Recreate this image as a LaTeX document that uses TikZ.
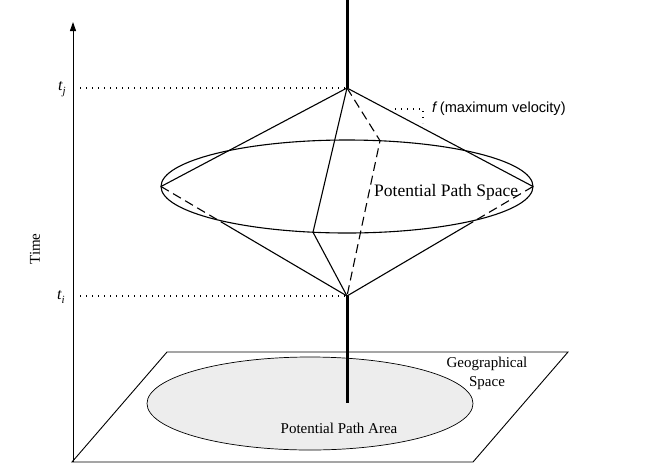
\documentclass[tikz,border=0pt]{standalone}
\usepackage{fontspec}
\setmainfont{Liberation Serif}
\setsansfont{Liberation Sans}
\usetikzlibrary{calc,arrows.meta}
\begin{document}
\begin{tikzpicture}[x=1pt,y=-1pt,
  thin line/.style={line width=1.1pt},
  thick pole/.style={line width=3pt},
  dotline/.style={line width=1.1pt,dash pattern=on 1.1pt off 4.9pt},
  dashline/.style={line width=1.1pt,dash pattern=on 9pt off 5pt},
  lbl/.style={inner sep=0pt,font=\fontsize{15}{19}\selectfont},
  tlbl/.style={inner sep=0pt,font=\fontsize{16}{16}\selectfont\itshape}]
\useasboundingbox (0,0) rectangle (662,475);
% coordinates
\coordinate (top) at (347,0);
\coordinate (A) at (347,88);   % apex upper
\coordinate (B) at (347,296);  % apex lower
\coordinate (L) at (161,186.5);
\coordinate (R) at (533,186.5);
\coordinate (F) at (313,232.2);
\coordinate (K) at (380,140.7);
\coordinate (Lx) at ($(L)!0.321!(B)$);
\coordinate (Rx) at ($(R)!0.321!(B)$);
\coordinate (poleend) at (347,403);
\coordinate (ax0) at (73,462);
\coordinate (ax1) at (73,22);
\coordinate (tj0) at (80,88);
\coordinate (ti0) at (80,296);
\coordinate (f0) at (395,109);
\coordinate (f1) at (423,109);
\coordinate (f2) at (423,123);
\coordinate (p1) at (72,462);
\coordinate (p2) at (167,352);
\coordinate (p3) at (568,352);
\coordinate (p4) at (473,462);
% geographical plane
\draw[line width=0.9pt] (p1) -- (p2) -- (p3) -- (p4) -- cycle;
\draw[line width=0.7pt, fill=black!7] (310,403.5) ellipse [x radius=163pt, y radius=46.5pt];
% time axis
\draw[line width=1pt,-{Triangle[length=9pt,width=6pt]}] (ax0) -- (ax1);
% dotted time marks
\draw[dotline] (tj0) -- (A);
\draw[dotline] (ti0) -- (B);
% pole
\draw[thick pole] (top) -- (A);
\draw[thick pole] (B) -- (poleend);
% path space ellipse
\draw[thin line] (347,186.5) ellipse [x radius=186pt, y radius=46.5pt];
% prism edges
\draw[thin line] (A) -- (L);
\draw[thin line] (A) -- (R);
\draw[dashline] (L) -- (Lx);
\draw[thin line] (Lx) -- (B);
\draw[dashline] (R) -- (Rx);
\draw[thin line] (Rx) -- (B);
\draw[thin line] (A) -- (F) -- (B);
\draw[dashline] (A) -- (K) -- (B);
% f label
\draw[dotline] (f0) -- (f1) -- (f2);
\node[inner sep=0pt,anchor=west,font=\fontsize{14.6}{15}\selectfont\sffamily] (flbl) at (432,109) {\textit{f}\,(maximum velocity)};
% labels
\node[tlbl] (tj) at (62,89) {t\raisebox{-3.5pt}{\fontsize{11}{10}\selectfont j}};
\node[tlbl] (ti) at (61,297) {t\raisebox{-3.5pt}{\fontsize{11}{10}\selectfont i}};
\node[lbl,rotate=90] (time) at (35,249) {Time};
\node[inner sep=0pt,anchor=west,font=\fontsize{17.5}{20}\selectfont] (pps) at (374,192) {Potential Path Space};
\node[lbl,align=center] (geo) at (487,373) {Geographical\\Space};
\node[lbl] (ppa) at (339,428) {Potential Path Area};
\end{tikzpicture}
\end{document}
